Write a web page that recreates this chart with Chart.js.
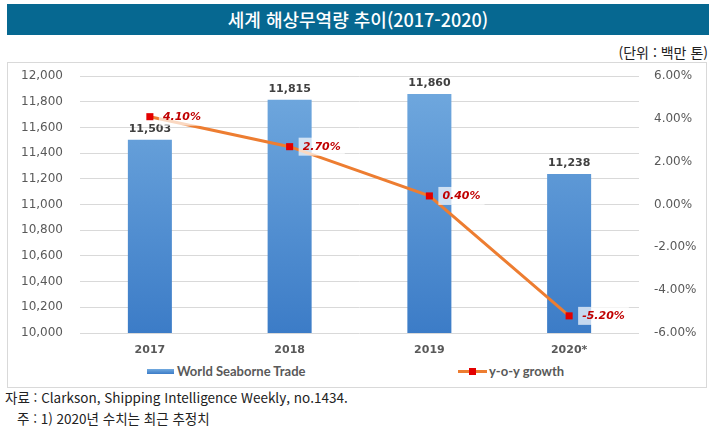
<!DOCTYPE html>
<html lang="ko">
<head>
    <meta charset="UTF-8">
    <title>세계 해상무역량 추이(2017-2020)</title>
    <style>
        body {
            margin: 0;
            width: 716px;
            height: 436px;
            background: #fff;
            position: relative;
            font-family: "Noto Sans CJK KR", sans-serif;
            color: #222;
        }
        #title {
            position: absolute;
            left: 7px;
            top: 4px;
            width: 702px;
            height: 31px;
            line-height: 31px;
            background: #066891;
            color: #fff;
            font-size: 18px;
            font-weight: 500;
            text-align: center;
        }
        #unit {
            position: absolute;
            right: 8px;
            top: 43px;
            font-size: 14px;
            line-height: 18px;
        }
        #box {
            position: absolute;
            left: 7px;
            top: 62px;
            width: 700px;
            height: 326px;
            border: 1px solid #d9d9d9;
            box-sizing: border-box;
        }
        #chartWrap {
            position: absolute;
            left: 8px;
            top: 63px;
            width: 698px;
            height: 300px;
        }
        .legText {
            position: absolute;
            top: 363px;
            font: bold 13px Lato, sans-serif;
            line-height: 17px;
            color: #595959;
        }
        #barSwatch {
            position: absolute;
            left: 147px;
            top: 369px;
            width: 27px;
            height: 5px;
            background: linear-gradient(#72aadf, #3c7cc7);
        }
        #lineSwatch {
            position: absolute;
            left: 458px;
            top: 370px;
            width: 29px;
            height: 3px;
            background: #ed7d31;
        }
        #lineMarker {
            position: absolute;
            left: 469px;
            top: 368px;
            width: 7px;
            height: 7px;
            background: #e30000;
        }
        #source {
            position: absolute;
            left: 5px;
            top: 387px;
            font-size: 13.5px;
            line-height: 21px;
        }
    </style>
</head>
<body>
    <div id="title">세계 해상무역량 추이(2017-2020)</div>
    <div id="unit">(단위 : 백만 톤)</div>
    <div id="box"></div>
    <div id="chartWrap"><canvas id="chart"></canvas></div>

    <div id="barSwatch"></div>
    <div class="legText" id="barLabel" style="left:177px"></div>
    <div id="lineSwatch"></div>
    <div id="lineMarker"></div>
    <div class="legText" id="lineLabel" style="left:489px"></div>

    <div id="source">
        <div>자료 : Clarkson, Shipping Intelligence Weekly, no.1434.</div>
        <div style="padding-left:12px">주 : 1) 2020년 수치는 최근 추정치</div>
    </div>

    <script src="https://cdn.jsdelivr.net/npm/chart.js"></script>
    <script>
        const years = ['2017', '2018', '2019', '2020*'];
        const trade = [11503, 11815, 11860, 11238];   // 백만 톤
        const growth = [4.1, 2.7, 0.4, -5.2];         // %
        const seriesNames = ['World Seaborne Trade', 'y-o-y growth'];

        const gray = '#595959';

        function barFill(context) {
            const area = context.chart.chartArea;
            if (!area) return '#5b9bd5';
            const g = context.chart.ctx.createLinearGradient(0, area.top, 0, area.bottom);
            g.addColorStop(0, '#72aadf');
            g.addColorStop(1, '#3c7cc7');
            return g;
        }

        // fixed axis width; drop the label overhang padding so layout.padding sets the top
        function fixWidth(w) {
            return s => {
                s.width = w;
                s.paddingTop = 0;
                s.paddingBottom = 0;
            };
        }

        // value labels, drawn right after each dataset so the line sits over the bar labels
        const valueLabels = {
            id: 'valueLabels',
            afterDatasetDraw(chart, args) {
                const ctx = chart.ctx;
                const meta = chart.getDatasetMeta(args.index);
                ctx.save();
                ctx.textBaseline = 'middle';
                if (args.index === 0) {
                    ctx.font = 'bold 11px "DejaVu Sans"';
                    ctx.fillStyle = '#404040';
                    ctx.textAlign = 'center';
                    meta.data.forEach((bar, i) => {
                        ctx.fillText(trade[i].toLocaleString('en-US'), bar.x, bar.y - 11);
                    });
                } else {
                    ctx.font = 'italic bold 11px "DejaVu Sans"';
                    ctx.textAlign = 'left';
                    meta.data.forEach((pt, i) => {
                        const txt = growth[i].toFixed(2) + '%';
                        const w = ctx.measureText(txt).width;
                        const x0 = pt.x + 9;
                        ctx.fillStyle = 'rgba(255,255,255,0.7)';
                        ctx.fillRect(x0, pt.y - 9, w + 8, 18);
                        ctx.fillStyle = '#c00000';
                        ctx.fillText(txt, x0 + 4, pt.y);
                    });
                }
                ctx.restore();
            }
        };

        const chart = new Chart(document.getElementById('chart'), {
            data: {
                labels: years,
                datasets: [
                    {
                        type: 'bar',
                        label: seriesNames[0],
                        data: trade,
                        yAxisID: 'y',
                        backgroundColor: barFill,
                        barPercentage: 0.315,
                        categoryPercentage: 1,
                        order: 1
                    },
                    {
                        type: 'line',
                        label: seriesNames[1],
                        data: growth,
                        yAxisID: 'y1',
                        borderColor: '#ed7d31',
                        borderWidth: 3,
                        pointStyle: 'rect',
                        pointRadius: 5,
                        pointBackgroundColor: '#e30000',
                        pointBorderWidth: 0,
                        tension: 0,
                        order: 0
                    }
                ]
            },
            options: {
                responsive: true,
                maintainAspectRatio: false,
                animation: false,
                layout: { padding: { top: 13, left: 0, right: 0, bottom: 0 } },
                plugins: {
                    legend: { display: false },
                    tooltip: { enabled: false }
                },
                scales: {
                    x: {
                        grid: { display: false },
                        border: { display: false },
                        ticks: {
                            color: gray,
                            font: { family: 'DejaVu Sans', size: 11, weight: 'bold' },
                            padding: 3
                        },
                        afterFit(s) { s.height = 30; }
                    },
                    y: {
                        position: 'left',
                        min: 10000,
                        max: 12000,
                        grid: { color: '#d9d9d9', drawTicks: false },
                        border: { display: false },
                        ticks: {
                            stepSize: 200,
                            color: gray,
                            font: { family: 'DejaVu Sans', size: 12 },
                            padding: 17,
                            callback: v => v.toLocaleString('en-US')
                        },
                        afterFit: fixWidth(72)
                    },
                    y1: {
                        position: 'right',
                        min: -6,
                        max: 6,
                        grid: { display: false, drawTicks: false },
                        border: { display: false },
                        ticks: {
                            stepSize: 2,
                            color: gray,
                            font: { family: 'DejaVu Sans', size: 12 },
                            padding: 15,
                            callback: v => v.toFixed(2) + '%'
                        },
                        afterFit: fixWidth(67)
                    }
                }
            },
            plugins: [valueLabels]
        });

        document.getElementById('barLabel').textContent = chart.data.datasets[0].label;
        document.getElementById('lineLabel').textContent = chart.data.datasets[1].label;
    </script>
</body>
</html>
